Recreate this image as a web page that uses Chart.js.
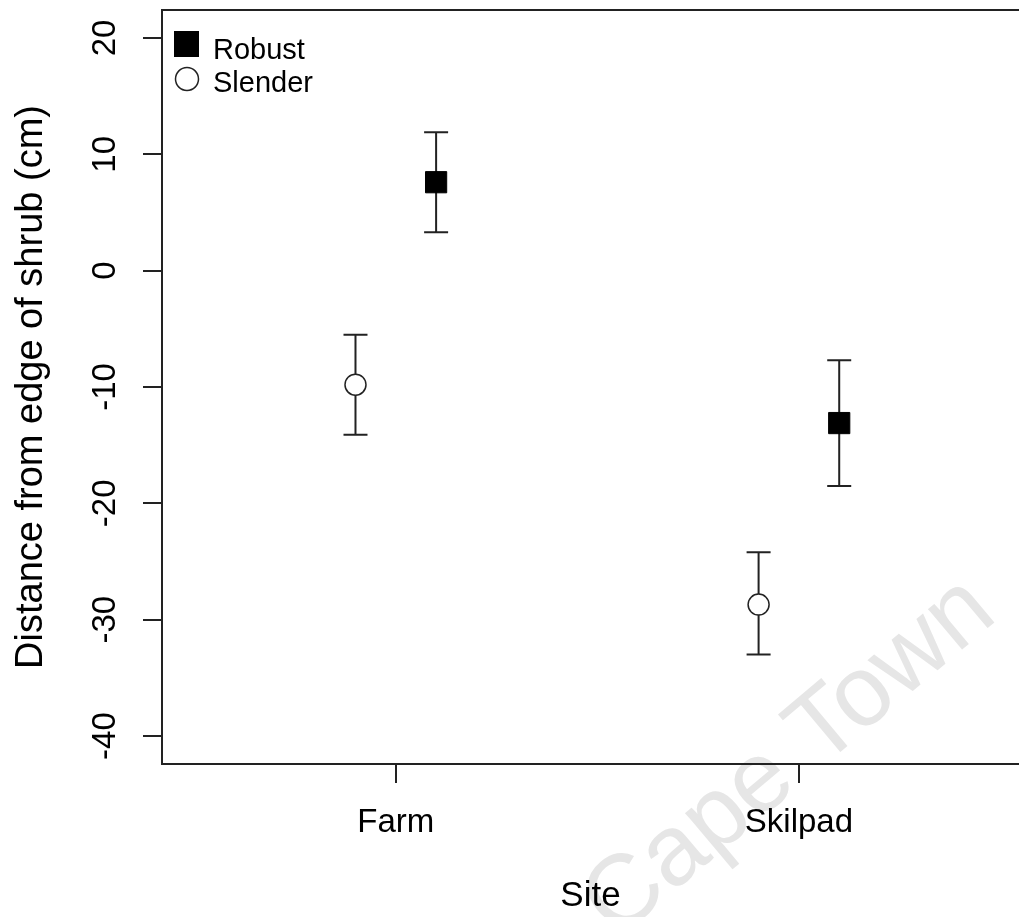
<!DOCTYPE html>
<html>
<head>
<meta charset="utf-8">
<script src="https://cdn.jsdelivr.net/npm/chart.js@4/dist/chart.umd.min.js"></script>
<style>
  html, body { margin: 0; padding: 0; background: #fff; }
  #wrap { width: 1019px; height: 917px; position: relative; }
</style>
</head>
<body>
<div id="wrap"><canvas id="siteChart" width="1019" height="917"></canvas></div>
<script>
// sites on the x axis (numeric positions 1, 2 like R)
const sites = ["Farm", "Skilpad"];
const sitePos = [1, 2];
const yTicks = [-40, -30, -20, -10, 0, 10, 20];

// robust morph, shifted right of the site tick
const robustX = [1.1, 2.1];
const robustMean = [7.6, -13.1];
const robustLower = [3.3, -18.5];
const robustUpper = [11.9, -7.7];

// slender morph, shifted left of the site tick
const slenderX = [0.9, 1.9];
const slenderMean = [-9.8, -28.7];
const slenderLower = [-14.1, -33.0];
const slenderUpper = [-5.5, -24.2];

const FONT = "'Liberation Sans', Arial, sans-serif";
const INK = "#222";

//error bars drawn under the points
const errorBars = {
  id: "errorBars",
  beforeDatasetsDraw(chart) {
    const { ctx, scales: { x, y } } = chart;
    const groups = [
      { xs: robustX, lo: robustLower, hi: robustUpper },
      { xs: slenderX, lo: slenderLower, hi: slenderUpper }
    ];
    ctx.save();
    ctx.strokeStyle = INK;
    ctx.lineWidth = 2;
    groups.forEach(g => {
      g.xs.forEach((xv, i) => {
        const px = x.getPixelForValue(xv);
        const y1 = y.getPixelForValue(g.lo[i]);
        const y2 = y.getPixelForValue(g.hi[i]);
        ctx.beginPath();
        ctx.moveTo(px, y1); ctx.lineTo(px, y2);
        ctx.moveTo(px - 12, y1); ctx.lineTo(px + 12, y1);
        ctx.moveTo(px - 12, y2); ctx.lineTo(px + 12, y2);
        ctx.stroke();
      });
    });
    ctx.restore();
  }
};

//rotated y tick labels, top frame line, legend box
const extras = {
  id: "extras",
  beforeDraw(chart) {
    const { ctx } = chart;
    //faint watermark
    ctx.save();
    ctx.translate(790, 758);
    ctx.rotate(-40 * Math.PI / 180);
    ctx.fillStyle = "#e6e6e6";
    ctx.font = "100px " + FONT;
    ctx.textAlign = "center";
    ctx.textBaseline = "middle";
    ctx.fillText("Cape Town", 0, 0);
    ctx.restore();
  },
  afterDraw(chart) {
    const { ctx, chartArea, scales: { y } } = chart;
    ctx.save();
    ctx.fillStyle = "#000";
    ctx.font = "33px " + FONT;
    ctx.textAlign = "center";
    ctx.textBaseline = "middle";
    y.ticks.forEach(t => {
      ctx.save();
      ctx.translate(106, y.getPixelForValue(t.value));
      ctx.rotate(-Math.PI / 2);
      ctx.fillText(String(t.value), 0, 0);
      ctx.restore();
    });

    ctx.strokeStyle = INK;
    ctx.lineWidth = 2;
    ctx.beginPath();
    ctx.moveTo(chartArea.left - 1, chartArea.top);
    ctx.lineTo(chartArea.right, chartArea.top);
    ctx.stroke();

    //legend
    ctx.fillStyle = "#000";
    ctx.fillRect(174, 31, 25, 26);
    ctx.beginPath();
    ctx.arc(187, 79, 11.5, 0, Math.PI * 2);
    ctx.fillStyle = "#fff";
    ctx.fill();
    ctx.lineWidth = 1.5;
    ctx.stroke();
    ctx.fillStyle = "#000";
    ctx.font = "29px " + FONT;
    ctx.textAlign = "left";
    ctx.textBaseline = "alphabetic";
    ctx.fillText("Robust", 213, 59);
    ctx.fillText("Slender", 213, 92);
    ctx.restore();
  }
};

const ctx = document.getElementById("siteChart").getContext("2d");
new Chart(ctx, {
  type: "scatter",
  data: {
    datasets: [
      {
        label: "Robust",
        data: robustX.map((xv, i) => ({ x: xv, y: robustMean[i] })),
        pointStyle: "rect",
        pointRadius: 15,
        backgroundColor: "#000",
        borderColor: "#000",
        borderWidth: 1
      },
      {
        label: "Slender",
        data: slenderX.map((xv, i) => ({ x: xv, y: slenderMean[i] })),
        pointStyle: "circle",
        pointRadius: 10.5,
        backgroundColor: "#fff",
        borderColor: INK,
        borderWidth: 1.5
      }
    ]
  },
  options: {
    responsive: false,
    animation: false,
    layout: { padding: { top: 10, left: 0, right: 0, bottom: 0 }, autoPadding: false },
    plugins: {
      legend: { display: false },
      tooltip: { enabled: false }
    },
    scales: {
      x: {
        type: "linear",
        min: 0.42,
        max: 2.546,
        afterBuildTicks: s => { s.ticks = sitePos.map(v => ({ value: v })); },
        afterFit: s => { s.height = 153; },
        ticks: {
          callback: v => sites[sitePos.indexOf(v)],
          color: "#000",
          font: { family: FONT, size: 33 },
          padding: 20,
          maxRotation: 0,
          autoSkip: false
        },
        grid: { drawOnChartArea: false, drawTicks: true, tickLength: 19, color: INK, lineWidth: 2 },
        border: { display: true, color: INK, width: 2 },
        title: {
          display: true,
          text: "Site",
          color: "#000",
          font: { family: FONT, size: 35 },
          padding: { top: 0, bottom: 0 }
        }
      },
      y: {
        min: -42.4,
        max: 22.4,
        afterBuildTicks: s => { s.ticks = yTicks.map(v => ({ value: v })); },
        afterFit: s => { s.width = 162; },
        ticks: { display: false },
        grid: { drawOnChartArea: false, drawTicks: true, tickLength: 19, color: INK, lineWidth: 2 },
        border: { display: true, color: INK, width: 2 },
        title: {
          display: true,
          text: "Distance from edge of shrub (cm)",
          color: "#000",
          font: { family: FONT, size: 38 },
          padding: { top: 9, bottom: 0 }
        }
      }
    }
  },
  plugins: [errorBars, extras]
});
</script>
</body>
</html>
